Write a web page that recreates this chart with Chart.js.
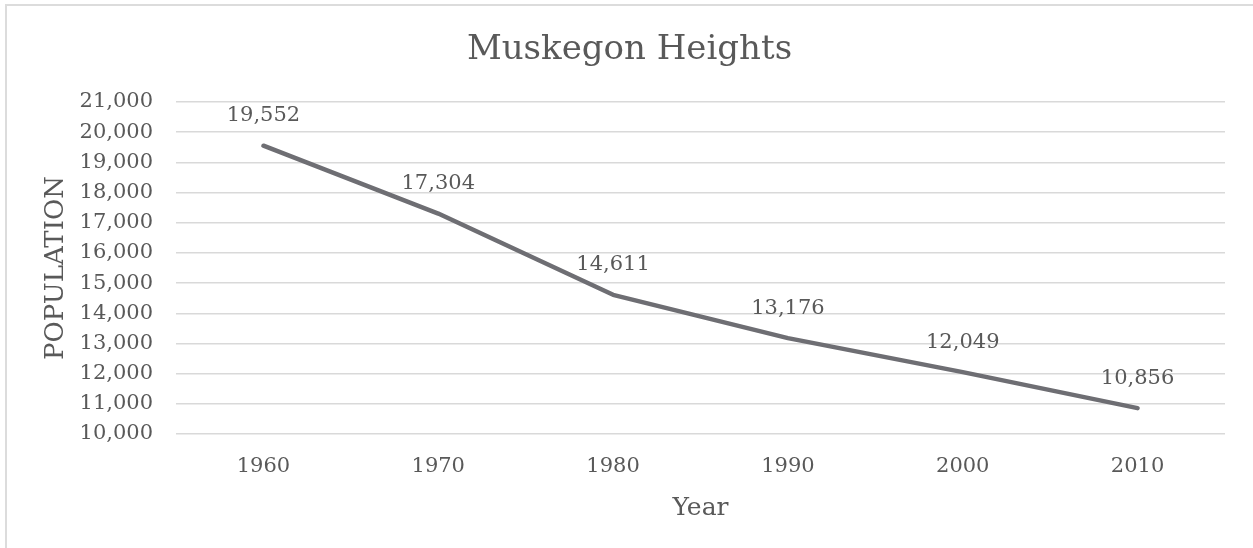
<!DOCTYPE html>
<html>
<head>
<meta charset="utf-8">
<script src="https://cdn.jsdelivr.net/npm/chart.js@4/dist/chart.umd.min.js"></script>
<style>
  html, body { margin: 0; padding: 0; background: #ffffff; overflow: hidden; }
  #wrap { position: relative; width: 1253px; height: 548px; }
  #frame { position: absolute; left: 5px; top: 4px; width: 1300px; height: 600px; border: 2px solid #dcdcdc; box-sizing: border-box; }
  canvas { position: absolute; left: 0; top: 0; }
</style>
</head>
<body>
<div id="wrap">
  <div id="frame"></div>
  <canvas id="c" width="1253" height="548"></canvas>
</div>
<script>
const chartTitle = "Muskegon Heights";
const xAxisTitle = "Year";
const yAxisTitle = "POPULATION";
const years = ["1960", "1970", "1980", "1990", "2000", "2010"];
const population = [19552, 17304, 14611, 13176, 12049, 10856];
const yMin = 10000;
const yMax = 21000;
const yStep = 1000;

const FONT = "'DejaVu Serif', 'Liberation Serif', serif";
const TEXT = "#595959";

const fmt = v => Number(v).toLocaleString('en-US');

const dataLabels = {
  id: 'dataLabels',
  afterDatasetsDraw(chart) {
    const ctx = chart.ctx;
    const meta = chart.getDatasetMeta(0);
    ctx.save();
    ctx.font = "21px " + FONT;
    ctx.fillStyle = TEXT;
    ctx.textAlign = 'center';
    ctx.textBaseline = 'middle';
    meta.data.forEach((pt, i) => {
      ctx.fillText(fmt(chart.data.datasets[0].data[i]), pt.x, pt.y - 30);
    });
    ctx.restore();
  }
};

new Chart(document.getElementById('c'), {
  type: 'line',
  data: {
    labels: years,
    datasets: [{
      data: population,
      borderColor: '#6e6e73',
      borderWidth: 4.5,
      pointRadius: 0,
      pointHoverRadius: 0,
      tension: 0,
      fill: false,
      borderCapStyle: 'round',
      borderJoinStyle: 'round'
    }]
  },
  options: {
    responsive: false,
    animation: false,
    events: [],
    layout: { padding: { left: 6, right: 0, top: 0, bottom: 0 } },
    plugins: {
      legend: { display: false },
      tooltip: { enabled: false },
      title: {
        display: true,
        text: chartTitle,
        color: TEXT,
        font: { family: FONT, size: 34, weight: 'normal', lineHeight: 1.2 },
        padding: { top: 30, bottom: 31.2 }
      }
    },
    scales: {
      x: {
        offset: true,
        grid: { display: false, drawTicks: false },
        border: { display: false },
        ticks: { color: TEXT, font: { family: FONT, size: 21 }, padding: 20, maxRotation: 0 },
        title: {
          display: true,
          text: xAxisTitle,
          color: TEXT,
          font: { family: FONT, size: 25, lineHeight: 1.2 },
          padding: { top: 0, bottom: 25 }
        },
        afterFit(scale) { scale.height = 114; scale.paddingRight = 28; }
      },
      y: {
        min: yMin,
        max: yMax,
        grid: { color: '#d9d9d9', lineWidth: 1.5, drawTicks: false },
        border: { display: false },
        ticks: {
          stepSize: yStep,
          color: TEXT,
          font: { family: FONT, size: 21 },
          padding: 23,
          callback: v => fmt(v)
        },
        title: {
          display: true,
          text: yAxisTitle,
          color: TEXT,
          font: { family: FONT, size: 26, lineHeight: 1.2 },
          padding: { top: 35, bottom: 0 }
        },
        afterFit(scale) { scale.width = 170; }
      }
    }
  },
  plugins: [dataLabels]
});
</script>
</body>
</html>
